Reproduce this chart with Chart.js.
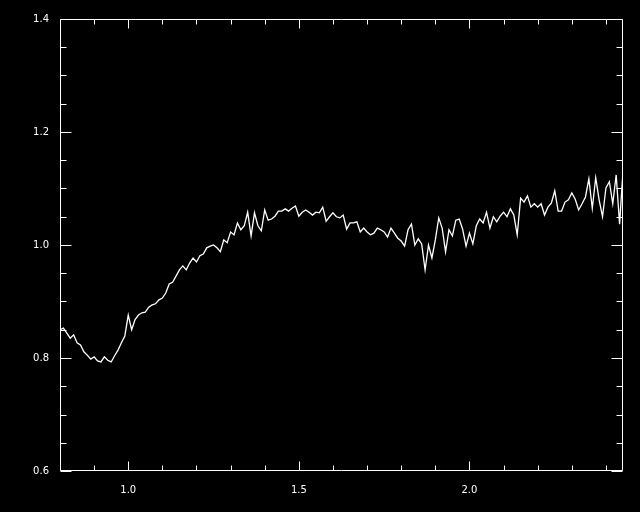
<!DOCTYPE html>
<html>
<head>
    <meta charset="UTF-8">
    <title>Spectrum</title>
    <script src="https://cdn.jsdelivr.net/npm/chart.js"></script>
    <style>
        body { margin: 0; background: #000; }
        #wrap { width: 640px; height: 512px; }
    </style>
</head>
<body>
<div id="wrap"><canvas id="spectrumChart"></canvas></div>
<script>
    // sample positions (x) and flux values (y)
    var xs = [
        0.80,0.81,0.82,0.83,0.84,0.85,0.86,0.87,0.88,0.89,
        0.90,0.91,0.92,0.93,0.94,0.95,0.96,0.97,0.98,0.99,
        1.00,1.01,1.02,1.03,1.04,1.05,1.06,1.07,1.08,1.09,
        1.10,1.11,1.12,1.13,1.14,1.15,1.16,1.17,1.18,1.19,
        1.20,1.21,1.22,1.23,1.24,1.25,1.26,1.27,1.28,1.29,
        1.30,1.31,1.32,1.33,1.34,1.35,1.36,1.37,1.38,1.39,
        1.40,1.41,1.42,1.43,1.44,1.45,1.46,1.47,1.48,1.49,
        1.50,1.51,1.52,1.53,1.54,1.55,1.56,1.57,1.58,1.59,
        1.60,1.61,1.62,1.63,1.64,1.65,1.66,1.67,1.68,1.69,
        1.70,1.71,1.72,1.73,1.74,1.75,1.76,1.77,1.78,1.79,
        1.80,1.81,1.82,1.83,1.84,1.85,1.86,1.87,1.88,1.89,
        1.90,1.91,1.92,1.93,1.94,1.95,1.96,1.97,1.98,1.99,
        2.00,2.01,2.02,2.03,2.04,2.05,2.06,2.07,2.08,2.09,
        2.10,2.11,2.12,2.13,2.14,2.15,2.16,2.17,2.18,2.19,
        2.20,2.21,2.22,2.23,2.24,2.25,2.26,2.27,2.28,2.29,
        2.30,2.31,2.32,2.33,2.34,2.35,2.36,2.37,2.38,2.39,
        2.40,2.41,2.42,2.43,2.44,2.45
    ];
    var ys = [
        0.850,0.853,0.844,0.835,0.841,0.827,0.823,0.811,0.805,0.798,
        0.802,0.795,0.793,0.802,0.796,0.793,0.804,0.814,0.827,0.839,
        0.876,0.850,0.868,0.876,0.880,0.881,0.890,0.894,0.896,0.903,
        0.906,0.915,0.931,0.934,0.945,0.956,0.963,0.956,0.968,0.977,
        0.970,0.981,0.984,0.995,0.998,1.000,0.995,0.988,1.009,1.004,
        1.023,1.018,1.039,1.027,1.034,1.058,1.016,1.057,1.034,1.025,
        1.062,1.044,1.046,1.051,1.060,1.060,1.064,1.060,1.065,1.069,
        1.051,1.058,1.062,1.058,1.053,1.058,1.057,1.067,1.042,1.050,
        1.057,1.050,1.048,1.053,1.028,1.039,1.039,1.041,1.023,1.030,
        1.023,1.018,1.021,1.030,1.027,1.023,1.014,1.030,1.021,1.012,
        1.007,0.998,1.027,1.037,1.000,1.011,1.002,0.956,1.000,0.977,
        1.009,1.048,1.030,0.988,1.027,1.016,1.044,1.046,1.028,0.998,
        1.021,1.002,1.034,1.046,1.039,1.058,1.030,1.050,1.041,1.051,
        1.058,1.050,1.064,1.053,1.018,1.083,1.076,1.087,1.067,1.073,
        1.067,1.073,1.053,1.067,1.074,1.096,1.060,1.060,1.076,1.080,
        1.092,1.081,1.062,1.073,1.085,1.117,1.065,1.119,1.080,1.050,
        1.101,1.112,1.073,1.124,1.037,1.131
    ];

    // axis ticks
    var xLabelTicks = [1.0, 1.5, 2.0];
    var xMinorTicks = [0.8,0.9,1.1,1.2,1.3,1.4,1.6,1.7,1.8,1.9,2.1,2.2,2.3,2.4];
    var yLabelTicks = [0.6, 0.8, 1.0, 1.2, 1.4];
    var yMinorTicks = [0.65,0.7,0.75,0.85,0.9,0.95,1.05,1.1,1.15,1.25,1.3,1.35];

    // black background + IDL style box with inward ticks on all four sides
    var idlFrame = {
        id: 'idlFrame',
        beforeDraw: function(chart) {
            var c = chart.ctx;
            c.save();
            c.fillStyle = '#000';
            c.fillRect(0, 0, chart.width, chart.height);
            c.restore();
        },
        afterDraw: function(chart) {
            var c = chart.ctx, a = chart.chartArea;
            var sx = chart.scales.x, sy = chart.scales.y;
            var L = Math.round(a.left) + 0.5, R = Math.round(a.right) - 0.5;
            var T = Math.round(a.top) + 0.5, B = Math.round(a.bottom) - 0.5;
            c.save();
            c.strokeStyle = '#fff';
            c.lineWidth = 1;
            c.beginPath();
            c.rect(L, T, R - L, B - T);
            function xt(v, len) {
                var p = Math.round(sx.getPixelForValue(v)) + 0.5;
                c.moveTo(p, B); c.lineTo(p, B - len);
                c.moveTo(p, T); c.lineTo(p, T + len);
            }
            function yt(v, len) {
                var p = Math.round(sy.getPixelForValue(v)) + 0.5;
                c.moveTo(L, p); c.lineTo(L + len, p);
                c.moveTo(R, p); c.lineTo(R - len, p);
            }
            xLabelTicks.forEach(function(v) { xt(v, 9); });
            xMinorTicks.forEach(function(v) { xt(v, 5); });
            yLabelTicks.forEach(function(v) { yt(v, 11); });
            yMinorTicks.forEach(function(v) { yt(v, 6); });
            c.stroke();
            c.restore();
        }
    };

    var ctx = document.getElementById('spectrumChart').getContext('2d');
    var spectrumChart = new Chart(ctx, {
        type: 'line',
        data: {
            datasets: [{
                data: xs.map(function(x, i) { return {x: x, y: ys[i]}; }),
                borderColor: '#fff',
                borderWidth: 1.3,
                pointRadius: 0,
                tension: 0,
                fill: false
            }]
        },
        options: {
            responsive: true,
            maintainAspectRatio: false,
            animation: false,
            layout: { padding: { top: 19, right: 17, left: 0, bottom: 0 } },
            plugins: {
                legend: { display: false },
                tooltip: { enabled: false }
            },
            scales: {
                x: {
                    type: 'linear',
                    min: 0.8,
                    max: 2.45,
                    border: { display: false },
                    grid: { display: false },
                    afterBuildTicks: function(scale) {
                        scale.ticks = xLabelTicks.map(function(v) { return {value: v}; });
                    },
                    afterFit: function(scale) { scale.height = 41; },
                    ticks: {
                        color: '#fff',
                        padding: 5,
                        maxRotation: 0,
                        font: { family: 'DejaVu Sans', size: 10 },
                        callback: function(v) { return Number(v).toFixed(1); }
                    }
                },
                y: {
                    min: 0.6,
                    max: 1.4,
                    border: { display: false },
                    grid: { display: false },
                    afterBuildTicks: function(scale) {
                        scale.ticks = yLabelTicks.map(function(v) { return {value: v}; });
                    },
                    afterFit: function(scale) { scale.width = 60; },
                    ticks: {
                        color: '#fff',
                        padding: 3,
                        font: { family: 'DejaVu Sans', size: 10 },
                        callback: function(v) { return Number(v).toFixed(1); }
                    }
                }
            }
        },
        plugins: [idlFrame]
    });
</script>
</body>
</html>
